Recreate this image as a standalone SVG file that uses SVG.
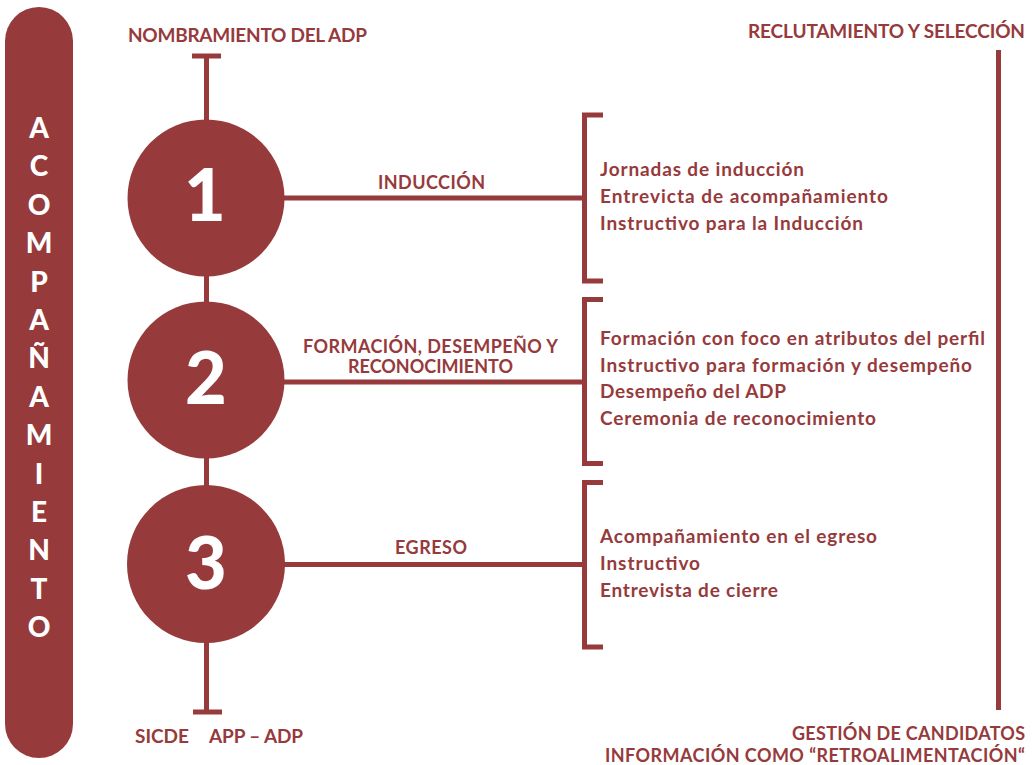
<svg xmlns="http://www.w3.org/2000/svg" width="1036" height="765" viewBox="0 0 1036 765">
<style>
  .t{font-family:Lato,"Open Sans","Liberation Sans",sans-serif;font-weight:700;fill:#963a3c;}
  .h{font-size:19px;}
  .i{font-size:19px;}
  .s{font-size:18px;}
  .b{font-size:18px;}
  .w{font-family:Lato,"Open Sans","Liberation Sans",sans-serif;font-weight:700;fill:#ffffff;text-anchor:middle;}
  .side{font-size:28px;font-weight:900;}
  .num{font-size:72px;font-weight:900;}
  .ln{stroke:#963a3c;stroke-width:5;fill:none;}
  .c{fill:#963a3c;}
</style>
<rect width="1036" height="765" fill="#ffffff"/>

<g id="sidebar">
  <rect x="5" y="7" width="68" height="751" rx="34" ry="34" class="c"/>
  <g class="w side">
    <text x="39" y="138">A</text>
    <text x="39" y="176">C</text>
    <text x="39" y="215">O</text>
    <text x="39" y="253">M</text>
    <text x="39" y="292">P</text>
    <text x="39" y="330">A</text>
    <text x="39" y="368">Ñ</text>
    <text x="39" y="407">A</text>
    <text x="39" y="445">M</text>
    <text x="39" y="484">I</text>
    <text x="39" y="522">E</text>
    <text x="39" y="560">N</text>
    <text x="39" y="599">T</text>
    <text x="39" y="637">O</text>
  </g>
</g>

<g id="connectors">
  <line class="ln" x1="206.5" y1="56" x2="206.5" y2="712"/>
  <line class="ln" x1="192" y1="56" x2="221" y2="56"/>
  <line class="ln" x1="193" y1="712" x2="222" y2="712"/>
  <line class="ln" x1="280" y1="198" x2="585" y2="198"/>
  <line class="ln" x1="280" y1="382" x2="585" y2="382"/>
  <line class="ln" x1="280" y1="564.5" x2="585" y2="564.5"/>
  <path class="ln" d="M603 115 H584.5 V281 H603"/>
  <path class="ln" d="M603 299.5 H584.5 V463.5 H603"/>
  <path class="ln" d="M603 482.5 H584.5 V647 H603"/>
  <line class="ln" x1="998.5" y1="50" x2="998.5" y2="710"/>
</g>

<g id="node-1">
  <circle cx="206" cy="198" r="78.5" class="c"/>
  <text x="205" y="221" class="w num">1</text>
</g>
<g id="node-2">
  <circle cx="206" cy="380" r="78.5" class="c"/>
  <text x="206" y="404" class="w num">2</text>
</g>
<g id="node-3">
  <circle cx="206" cy="564" r="79" class="c"/>
  <text x="206" y="589" class="w num">3</text>
</g>

<g id="labels">
  <text x="128" y="42" class="t h" textLength="239">NOMBRAMIENTO DEL ADP</text>
  <text x="748" y="38" class="t h" textLength="277">RECLUTAMIENTO Y SELECCIÓN</text>
  <text x="378" y="189" class="t s" textLength="107">INDUCCIÓN</text>
  <text x="303" y="353" class="t s" textLength="255">FORMACIÓN, DESEMPEÑO Y</text>
  <text x="348" y="373" class="t s" textLength="165">RECONOCIMIENTO</text>
  <text x="395" y="554" class="t s" textLength="72">EGRESO</text>
  <text x="135" y="743" class="t h" textLength="54">SICDE</text>
  <text x="209" y="743" class="t h" textLength="94">APP – ADP</text>
  <text x="792" y="740" class="t b" textLength="233">GESTIÓN DE CANDIDATOS</text>
  <text x="605" y="762" class="t b" textLength="420">INFORMACIÓN COMO “RETROALIMENTACIÓN“</text>
</g>

<g id="list-1">
  <text x="600" y="176" class="t i" textLength="204">Jornadas de inducción</text>
  <text x="600" y="203" class="t i" textLength="288">Entrevicta de acompañamiento</text>
  <text x="600" y="230" class="t i" textLength="263">Instructivo para la Inducción</text>
</g>
<g id="list-2">
  <text x="600" y="345" class="t i" textLength="385">Formación con foco en atributos del perfil</text>
  <text x="600" y="372" class="t i" textLength="372">Instructivo para formación y desempeño</text>
  <text x="600" y="398" class="t i" textLength="186">Desempeño del ADP</text>
  <text x="600" y="425" class="t i" textLength="276">Ceremonia de reconocimiento</text>
</g>
<g id="list-3">
  <text x="600" y="543" class="t i" textLength="277">Acompañamiento en el egreso</text>
  <text x="600" y="570" class="t i" textLength="100">Instructivo</text>
  <text x="600" y="597" class="t i" textLength="178">Entrevista de cierre</text>
</g>
</svg>
